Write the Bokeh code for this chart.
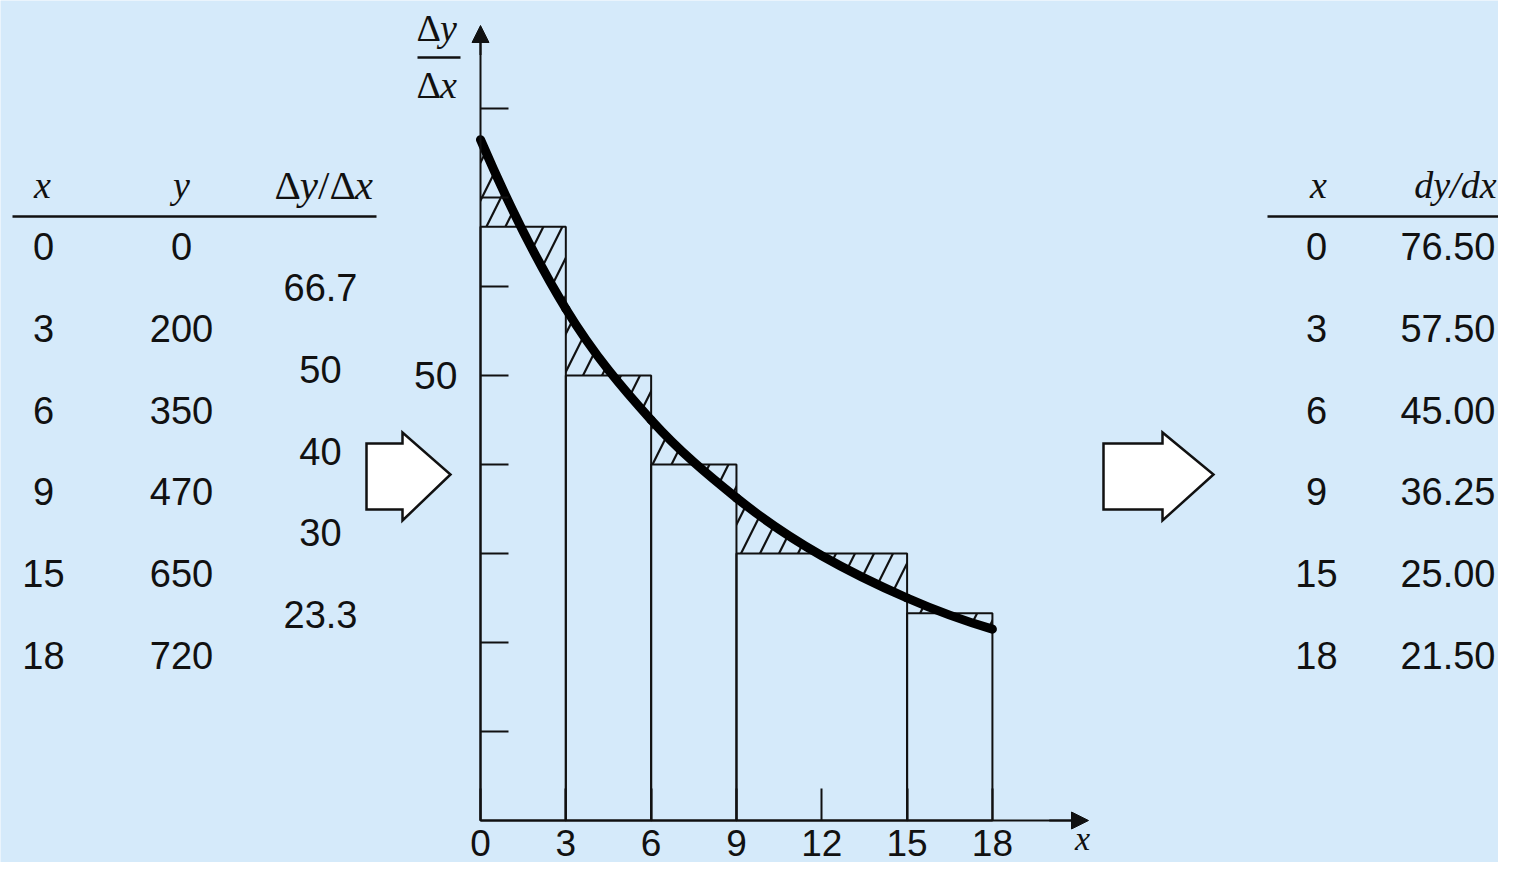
import numpy as np
from bokeh.plotting import figure
from bokeh.models import Range1d, LinearAxis, FixedTicker, Arrow, NormalHead
from bokeh.core.properties import value
from bokeh.embed import file_html
from bokeh.resources import INLINE

# ---------------- data ----------------
x_vals = [0, 3, 6, 9, 15, 18]
y_vals = [0, 200, 350, 470, 650, 720]
slope_fd = [66.7, 50, 40, 30, 23.3]
slope_fd_labels = ["66.7", "50", "40", "30", "23.3"]
dydx_vals = [76.50, 57.50, 45.00, 36.25, 25.00, 21.50]
dydx_labels = ["76.50", "57.50", "45.00", "36.25", "25.00", "21.50"]
x_ticks = [0, 3, 6, 9, 12, 15, 18]
y_ticks = [10, 20, 30, 40, 50, 60, 70, 80]
y_tick_labels = {50: "50"}

# ---------------- layout ----------------
W, H = 1498, 862
OX, OY = 480, 820          # canvas px of the data origin
SX, SY = 28.44, 8.9        # px per data unit
BG = "#d5eafa"
INK = "#111111"
SANS = "Liberation Sans"
SERIF = "Liberation Serif"


def dx(px):
    return (px - OX) / SX


def dy(py):
    return (OY - py) / SY


p = figure(width=W, height=H, x_range=Range1d(-OX / SX, (W - OX) / SX),
           y_range=Range1d(-(H - OY) / SY, OY / SY),
           x_axis_type=None, y_axis_type=None, toolbar_location=None,
           output_backend="svg", title=None, min_border=0,
           background_fill_color=BG, border_fill_color=BG, outline_line_color=None)

# ---------------- axes ----------------
xax = LinearAxis(fixed_location=0, ticker=FixedTicker(ticks=x_ticks), bounds=(0, 21.0))
xax.major_tick_in = 32
xax.major_tick_out = 0
xax.major_label_standoff = 9
yax = LinearAxis(fixed_location=0, ticker=FixedTicker(ticks=y_ticks), bounds=(0, 88.5))
yax.major_tick_in = 28
yax.major_tick_out = 0
yax.major_label_standoff = 23
yax.major_label_overrides = {t: y_tick_labels.get(t, "") for t in y_ticks}
for ax in (xax, yax):
    ax.minor_tick_in = 0
    ax.minor_tick_out = 0
    ax.axis_line_width = 2
    ax.axis_line_color = INK
    ax.major_tick_line_width = 2
    ax.major_tick_line_color = INK
    ax.major_label_text_font = SANS
    ax.major_label_text_color = INK
xax.major_label_text_font_size = "37px"
yax.major_label_text_font_size = "39px"
p.add_layout(xax, "below")
p.add_layout(yax, "left")

p.add_layout(Arrow(end=NormalHead(size=17, fill_color=INK, line_color=INK, line_width=1),
                   x_start=20.0, y_start=0, x_end=dx(1088), y_end=0,
                   line_color=INK, line_width=2))
p.add_layout(Arrow(end=NormalHead(size=17, fill_color=INK, line_color=INK, line_width=1),
                   x_start=0, y_start=86, x_end=0, y_end=dy(25),
                   line_color=INK, line_width=2))

# ---------------- bars ----------------
p.quad(left=x_vals[:-1], right=x_vals[1:], bottom=0, top=slope_fd,
       fill_color=None, line_color=INK, line_width=2)

# ---------------- smooth curve through dy/dx points ----------------
xs = np.array(x_vals, dtype=float)
ys = np.array(dydx_vals, dtype=float)
h = np.diff(xs)
d = np.diff(ys) / h
m = np.zeros_like(ys)
for i in range(1, len(xs) - 1):
    m[i] = (h[i] * d[i - 1] + h[i - 1] * d[i]) / (h[i - 1] + h[i])
m[0] = 2 * d[0] - m[1]
m[-1] = 2 * d[-1] - m[-2]

cx0 = xs[:-1] + h / 3
cy0 = ys[:-1] + m[:-1] * h / 3
cx1 = xs[1:] - h / 3
cy1 = ys[1:] - m[1:] * h / 3


def seg_points(i, n=40):
    t = np.linspace(0, 1, n)
    bx = ((1 - t) ** 3 * xs[i] + 3 * (1 - t) ** 2 * t * cx0[i]
          + 3 * (1 - t) * t ** 2 * cx1[i] + t ** 3 * xs[i + 1])
    by = ((1 - t) ** 3 * ys[i] + 3 * (1 - t) ** 2 * t * cy0[i]
          + 3 * (1 - t) * t ** 2 * cy1[i] + t ** 3 * ys[i + 1])
    return bx, by


# hatched areas between curve and bar tops
hx, hy = [], []
for i in range(len(slope_fd)):
    bx, by = seg_points(i)
    hx.append(list(bx) + [x_vals[i + 1], x_vals[i]])
    hy.append(list(by) + [slope_fd[i], slope_fd[i]])
p.patches(xs=hx, ys=hy, fill_color=None, line_color=None,
          hatch_pattern="/", hatch_color=INK, hatch_weight=2.2, hatch_scale=38)

p.bezier(x0=xs[:-1], y0=ys[:-1], x1=xs[1:], y1=ys[1:],
         cx0=cx0, cy0=cy0, cx1=cx1, cy1=cy1,
         line_color="#000000", line_width=9, line_cap="round")


# ---------------- text helpers ----------------
def txt(x, y, text, size, font=SANS, style="normal", align="center", baseline="middle"):
    p.text(x=x, y=y, text=text, text_font=value(font), text_font_size=value(size),
           text_font_style=style, text_align=align, text_baseline=baseline,
           text_color=INK)


ROW0, STEP = 246, 81.8
rows = [dy(ROW0 + i * STEP) for i in range(len(x_vals))]
mids = [dy(ROW0 + (i + 0.5) * STEP) for i in range(len(slope_fd))]

# left table
txt([dx(43)] * len(x_vals), rows, [str(v) for v in x_vals], "38px")
txt([dx(181)] * len(y_vals), rows, [str(v) for v in y_vals], "38px")
txt([dx(320)] * len(slope_fd), mids, slope_fd_labels, "38px")
HM = dy(184)
txt([dx(42)], [HM], ["x"], "38px", SERIF, "italic")
txt([dx(181)], [HM], ["y"], "38px", SERIF, "italic")
fs = 41
parts = [("Δ", "normal", 0.617), ("y", "italic", 0.444), ("/", "normal", 0.278),
         ("Δ", "normal", 0.617), ("x", "italic", 0.444)]
cur = 274
for ch, st, wd in parts:
    txt([dx(cur)], [HM], [ch], f"{fs}px", SERIF, st, "left")
    cur += wd * fs
p.segment(x0=[dx(12), dx(1267)], y0=[dy(216), dy(216)],
          x1=[dx(376), dx(1498)], y1=[dy(216), dy(216)],
          line_color=INK, line_width=2.5)

# right table
txt([dx(1316)] * len(x_vals), rows, [str(v) for v in x_vals], "38px")
txt([dx(1495)] * len(dydx_vals), rows, dydx_labels, "38px", align="right")
txt([dx(1318)], [HM], ["x"], "38px", SERIF, "italic")
txt([dx(1496)], [HM], ["dy/dx"], "38px", SERIF, "italic", "right")

# y-axis title: Δy over Δx
afs = 38
txt([dx(416)], [dy(27)], ["Δ"], f"{afs}px", SERIF, "normal", "left")
txt([dx(416 + 0.617 * afs)], [dy(27)], ["y"], f"{afs}px", SERIF, "italic", "left")
txt([dx(416)], [dy(84)], ["Δ"], f"{afs}px", SERIF, "normal", "left")
txt([dx(416 + 0.617 * afs)], [dy(84)], ["x"], f"{afs}px", SERIF, "italic", "left")
p.segment(x0=[dx(417)], y0=[dy(57)], x1=[dx(460)], y1=[dy(57)], line_color=INK, line_width=2.5)

# x-axis title
txt([dx(1082)], [dy(838)], ["x"], "34px", SERIF, "italic")

# block arrows
for bl, hb, tip in [(366, 402, 450), (1103, 1162, 1213)]:
    ax_ = [bl, hb, hb, tip, hb, hb, bl]
    ay_ = [443, 443, 432, 474, 520, 509, 509]
    p.patch(x=[dx(v) for v in ax_], y=[dy(v) for v in ay_],
            fill_color="white", line_color=INK, line_width=2.5, line_join="miter")

open("out.html", "w").write(file_html(p, INLINE))
